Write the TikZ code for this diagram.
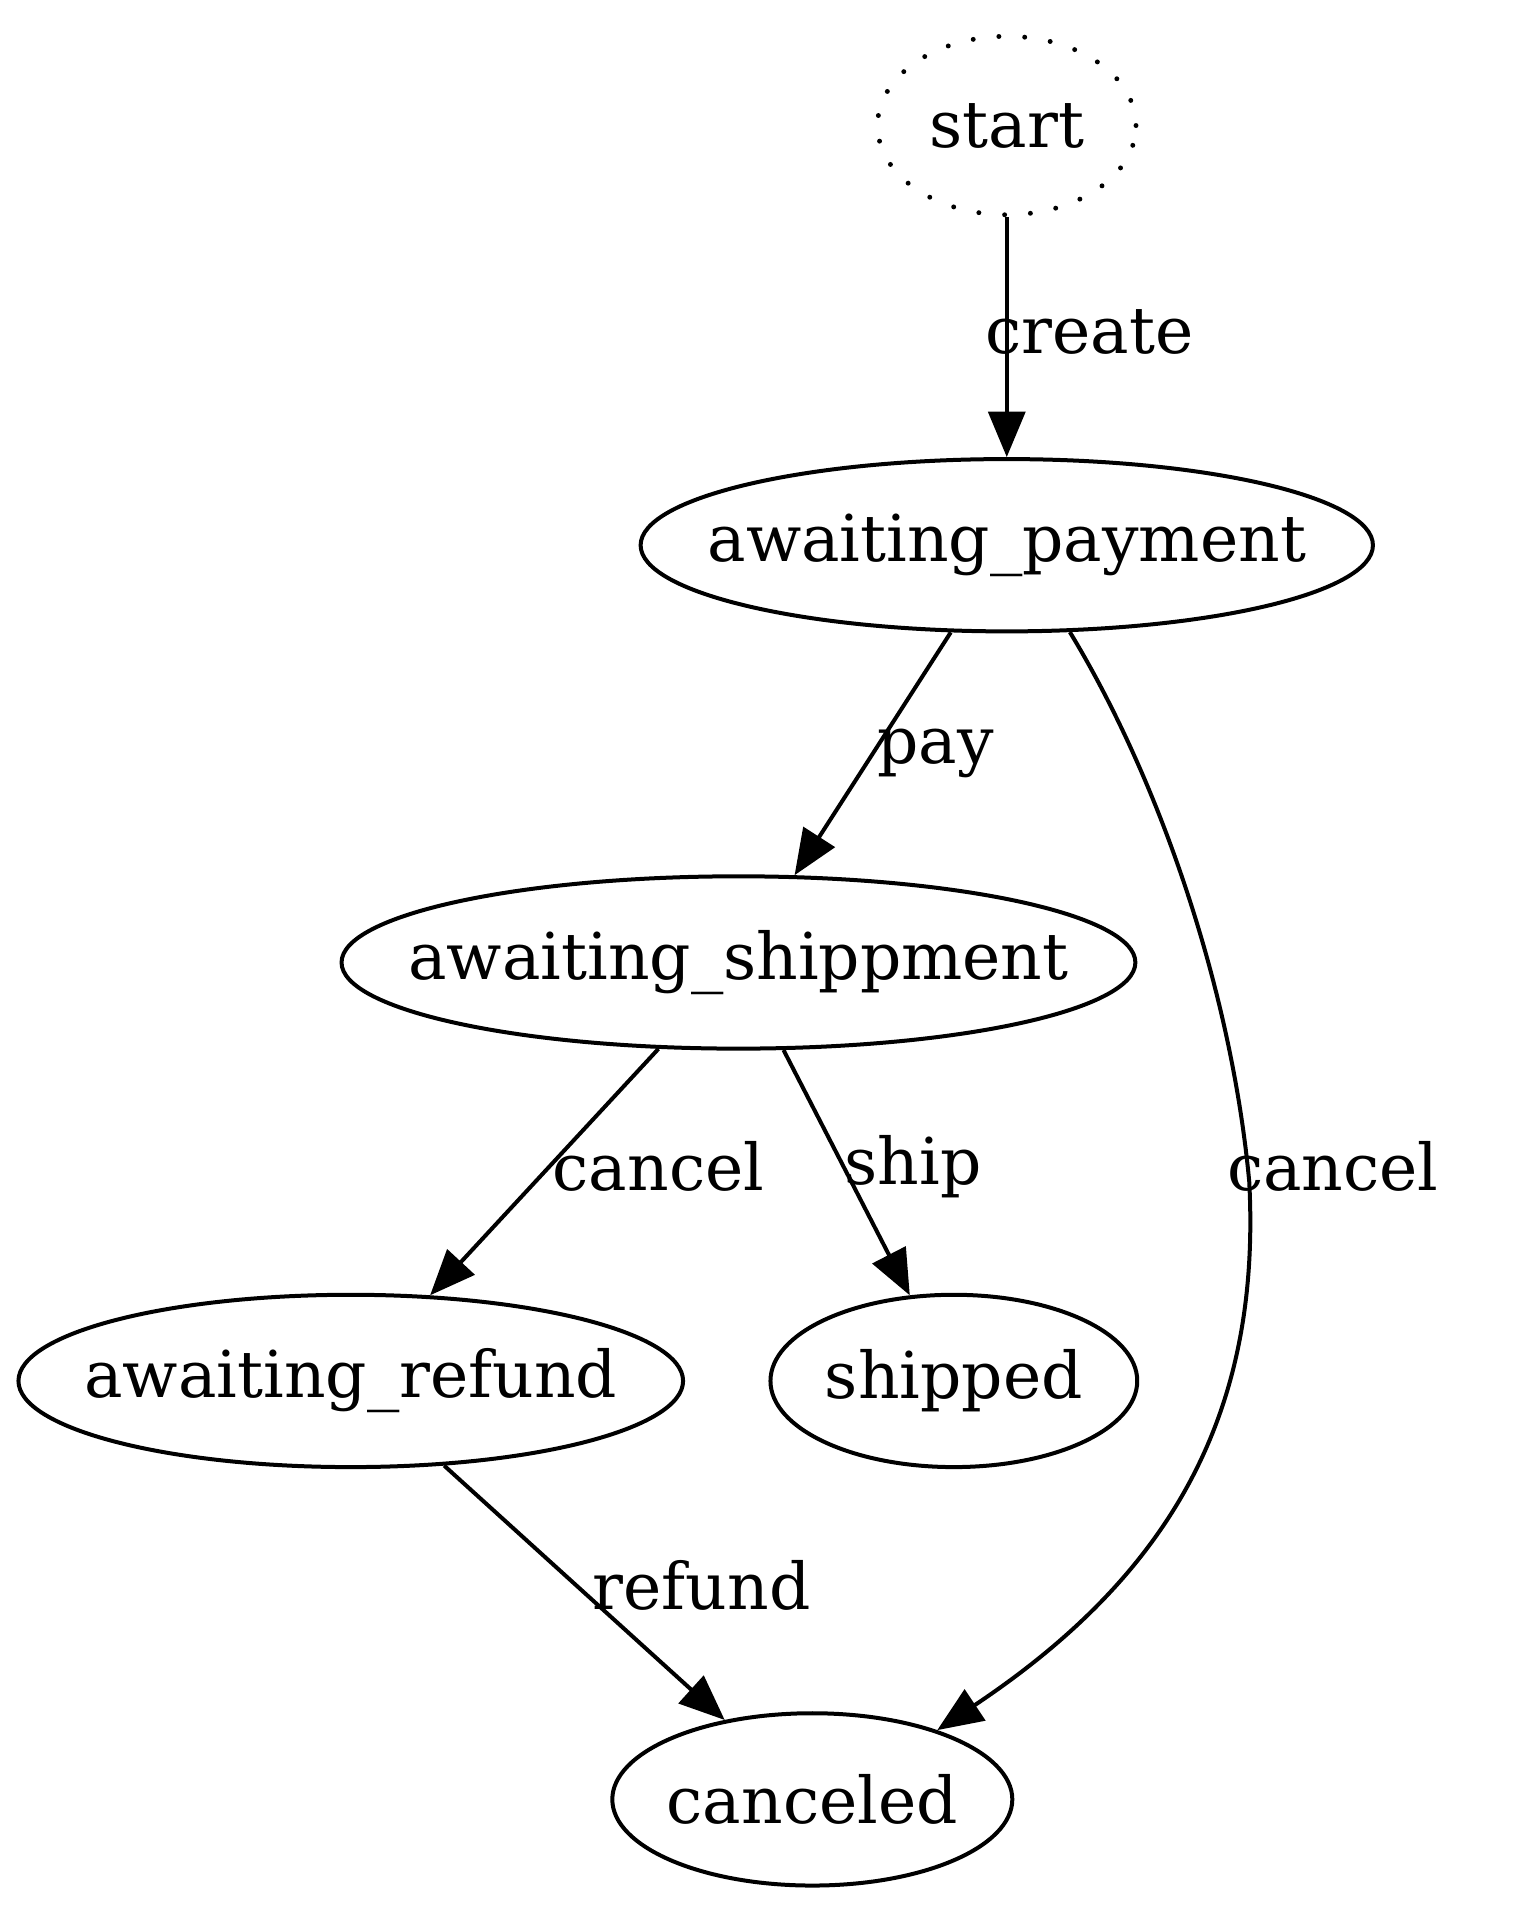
\documentclass[tikz,border=0pt]{standalone}
\usepackage{fontspec}
\setmainfont{DejaVu Serif}
\usetikzlibrary{shapes.geometric, arrows.meta}
\newcommand\sname[1]{\makebox[0pt]{#1}}

\begin{document}
\begin{tikzpicture}[x=0.2pt, y=-0.2pt, line width=0.65pt,
    state/.style={ellipse, draw, inner sep=0pt, minimum height=28pt},
    lbl/.style={inner sep=0pt},
    every node/.append style={font=\fontsize{10.5}{12}\selectfont},
    edge/.style={-{Triangle[length=7.4pt, width=6pt]}}]
    \useasboundingbox (0, 0) rectangle (1240, 1560);
    \node[state, minimum width=42pt, minimum height=29pt, dash pattern=on 0pt off 4.2pt, line cap=round, line width=0.8pt] (start) at (818, 102) {\sname{start}};
    \node[state, minimum width=119pt] (pay) at (818, 443) {\sname{awaiting\_payment}};
    \node[state, minimum width=129pt] (ship) at (600, 782) {\sname{awaiting\_shippment}};
    \node[state, minimum width=108pt] (refund) at (285, 1122) {\sname{awaiting\_refund}};
    \node[state, minimum width=59.6pt] (shipped) at (775, 1122) {\sname{shipped}};
    \node[state, minimum width=65pt] (canceled) at (660, 1462) {\sname{canceled}};
    \node[lbl] (lcreate) at (885, 270) {create};
    \node[lbl] (lpay) at (760, 612) {pay};
    \node[lbl] (lcancel1) at (535, 948) {cancel};
    \node[lbl] (lship) at (742, 948) {ship};
    \node[lbl] (lcancel2) at (1083, 948) {cancel};
    \node[lbl] (lrefund) at (570, 1288) {refund};
    \draw[edge] (start) -- (pay);
    \draw[edge] (pay) -- (ship);
    \draw[edge] (ship) -- (refund);
    \draw[edge] (ship) -- (shipped);
    \draw[edge] (refund) -- (canceled);
    \draw[edge] (pay.306) .. controls (940, 630) and (1000, 800) .. (1015, 960)
        .. controls (1025, 1150) and (950, 1280) .. (canceled.29);
\end{tikzpicture}
\end{document}
